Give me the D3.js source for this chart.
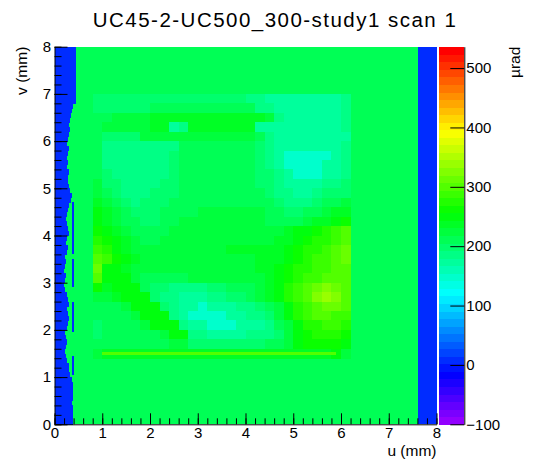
<!DOCTYPE html>
<html>
<head>
<meta charset="utf-8">
<script src="https://cdn.jsdelivr.net/npm/d3@7"></script>
<style>
  body { margin: 0; background: #fff; }
  text { font-family: "Liberation Sans", Arial, sans-serif; fill: #000; }
</style>
</head>
<body>
<div id="chart"></div>
<script>
// ---- data ----
const uTicks = [0, 1, 2, 3, 4, 5, 6, 7, 8];
const vTicks = [0, 1, 2, 3, 4, 5, 6, 7, 8];
const zTicks = [-100, 0, 100, 200, 300, 400, 500];
const zRange = [-100, 536];
const nLevels = 50;

// value (µrad) of each cell code
const codeKeys   = ["b", "c", "d", "e", "f", "g", "h", "i", "j", "k", "l", "m", "o", "p", "q", "r"];
const codeValues = [  8, 150, 168, 185, 200, 212, 225, 238, 250, 262, 275, 290, 305, 318, 330, 342];

// noisy outer field (mean value) and the blue (no signal) strips
const outerValue = 215;
const blueValue = 8;
// left blue edge, u (mm) per 0.1 mm of v, starting at v = 0
const leftEdge = [
  0.38, 0.38, 0.39, 0.38, 0.37, 0.38, 0.38, 0.39, 0.38, 0.37,
  0.33, 0.30, 0.30, 0.26, 0.24, 0.22, 0.24, 0.26, 0.24, 0.22,
  0.26, 0.28, 0.30, 0.28, 0.26, 0.30, 0.28, 0.26, 0.22, 0.20,
  0.22, 0.24, 0.20, 0.22, 0.24, 0.22, 0.26, 0.28, 0.24, 0.26,
  0.30, 0.28, 0.26, 0.24, 0.26, 0.28, 0.30, 0.34, 0.36, 0.32,
  0.30, 0.28, 0.28, 0.30, 0.26, 0.28, 0.27, 0.28, 0.30, 0.26,
  0.28, 0.30, 0.32, 0.30, 0.33, 0.35, 0.36, 0.38, 0.45, 0.45,
  0.45, 0.45, 0.45, 0.45, 0.45, 0.45, 0.45, 0.45, 0.45, 0.45
];
const rightEdge = 7.62;
// broken blue streak at u = 0.39 mm, [v start, v end]
const streakU = 0.39;
const streak = [[1.05, 1.45], [1.95, 2.6], [2.9, 3.5], [3.6, 4.7]];
// thin bright line along the bottom of the inner square: [u start, u end, v, value]
const bottomLine = [1.0, 5.9, 1.5, 300];

// smooth inner square, 0.2 mm cells, run-length coded rows from v = 7.0 down
const innerU0 = 0.8;
const innerVTop = 7.0;
const cell = 0.2;
const innerRows = [
  "f16 e2 d8 e1",
  "f6 g11 e2 d7 e1",
  "g2 h4 i12 h1 e1 d6 e1",
  "g1 h5 i2 d1 e1 i7 d9 e1",
  "g1 f4 h12 g1 e1 d8",
  "g1 e8 g8 f1 e1 d7 e1",
  "g1 e7 f1 g8 f1 e1 d1 c5 d1 e1",
  "g1 e7 f1 g8 f1 e1 d1 c4 d2 e1",
  "g1 f1 e6 f1 g8 f2 e1 d1 c3 d2 e1",
  "h1 f2 e4 f2 g8 f2 e1 d4 e2 f1",
  "h1 g1 f1 e3 f3 g9 f1 e2 d2 e1 f3",
  "i1 h1 g1 f1 e1 f3 g11 f1 e3 f1 g2 h1",
  "j1 i1 h1 g1 f3 g4 h7 g2 f2 g2 h1 i2",
  "j1 i1 h1 g2 f2 g2 h9 g4 h1 i2 j1 k1",
  "k1 j1 i1 h1 g4 h12 i1 j2 k1 l1 m1 o1",
  "l1 k1 j1 i1 h1 g2 h12 i2 j1 k1 l2 m1 o1",
  "m1 l1 j1 i1 h10 i6 j1 k1 l2 m1 o1 p1",
  "o1 m1 k1 j1 i1 h12 i3 j1 k1 l1 m2 o1 p1",
  "p1 j2 i1 h13 i2 j1 k1 l2 m2 o2",
  "o1 j3 h1 g5 h8 i1 j1 k1 l1 m2 o3",
  "k1 i1 j3 g1 f2 e4 f2 g3 h1 i1 j1 l1 m1 o1 p1 q1 p1 o1",
  "h2 i1 j3 f1 e2 d3 e2 f2 g1 h1 i1 j1 l1 m1 o1 q1 r1 q1 o1",
  "g3 h1 j3 f1 e1 d2 c1 d3 e2 f1 g1 h1 j1 l1 m1 o1 p2 o1",
  "g4 h1 j3 e1 d1 c4 d2 e2 f1 h1 j1 l1 m1 o2 m2",
  "f1 g4 h1 j3 e1 d2 c3 d3 e1 g1 h1 j1 l2 m2 l1",
  "f1 g6 h1 j2 e2 d4 e3 f1 h1 j1 k1 l3 k1",
  "g8 h2 f8 g2 h1 j1 k4 j1",
  "h1 i24 j1 h1"
];

// ---- layout ----
const W = 546, H = 472;
const plot = {left: 54.5, right: 436.5, top: 46.7, bottom: 424.3};
const bar = {left: 439, right: 464.3};
const labelSize = 15;
const titleSize = 15.5;

const svg = d3.select("#chart")
  .append("svg")
    .attr("width", W)
    .attr("height", H);

const x = d3.scaleLinear().domain([0, 8]).range([plot.left, plot.right]);
const y = d3.scaleLinear().domain([0, 8]).range([plot.bottom, plot.top]);
const zy = d3.scaleLinear().domain(zRange).range([plot.bottom, plot.top]);

// ROOT "pretty" palette: hue 280 -> 0 in 50 steps
const palette = d3.range(nLevels).map(function(i) {
  return d3.hsl(280 - (i + 1) * 280 / nLevels, 1, 0.5).formatHex();
});
const color = d3.scaleQuantize().domain(zRange).range(palette);
const codeValue = {};
codeKeys.forEach(function(k, i) { codeValue[k] = codeValues[i]; });

// decode inner cells
const cells = [];
innerRows.forEach(function(row, r) {
  let c = 0;
  row.split(" ").forEach(function(tok) {
    const n = +tok.slice(1);
    for (let j = 0; j < n; j++) {
      cells.push({u: innerU0 + c * cell, v: innerVTop - (r + 1) * cell, z: codeValue[tok[0]]});
      c++;
    }
  });
});

const map = svg.append("g").attr("shape-rendering", "crispEdges");

// outer noisy field
map.append("rect")
    .attr("x", x(0))
    .attr("y", y(8))
    .attr("width", x(8) - x(0))
    .attr("height", y(0) - y(8))
    .attr("fill", color(outerValue));

// inner square
map.selectAll("rect.cell")
  .data(cells)
  .enter()
  .append("rect")
    .attr("class", "cell")
    .attr("x", function(d) { return x(d.u); })
    .attr("y", function(d) { return y(d.v + cell); })
    .attr("width", function(d) { return x(d.u + cell) - x(d.u) + 0.5; })
    .attr("height", function(d) { return y(d.v) - y(d.v + cell) + 0.5; })
    .attr("fill", function(d) { return color(d.z); });

// bottom line of the inner square
map.append("rect")
    .attr("x", x(bottomLine[0]))
    .attr("y", y(bottomLine[2]) - 1.2)
    .attr("width", x(bottomLine[1]) - x(bottomLine[0]))
    .attr("height", 2.4)
    .attr("fill", color(bottomLine[3]));

// left blue strip
map.selectAll("rect.left")
  .data(leftEdge)
  .enter()
  .append("rect")
    .attr("class", "left")
    .attr("x", x(0))
    .attr("y", function(d, i) { return y((i + 1) * 0.1); })
    .attr("width", function(d) { return x(d) - x(0); })
    .attr("height", function(d, i) { return y(i * 0.1) - y((i + 1) * 0.1) + 0.5; })
    .attr("fill", color(blueValue));

// right blue strip
map.append("rect")
    .attr("x", x(rightEdge))
    .attr("y", y(8))
    .attr("width", x(8) - x(rightEdge))
    .attr("height", y(0) - y(8))
    .attr("fill", color(blueValue));

// blue streak
map.selectAll("rect.streak")
  .data(streak)
  .enter()
  .append("rect")
    .attr("class", "streak")
    .attr("x", x(streakU) - 0.7)
    .attr("y", function(d) { return y(d[1]); })
    .attr("width", 1.5)
    .attr("height", function(d) { return y(d[0]) - y(d[1]); })
    .attr("fill", color(blueValue));

// ---- axes ----
function styleAxis(g) {
  g.attr("font-size", labelSize).attr("font-family", null);
  g.selectAll("text").attr("fill", "#000");
}

const minor = d3.range(0, 8.001, 0.2);

svg.append("g")
    .attr("transform", "translate(0," + plot.bottom + ")")
  .call(d3.axisBottom(x).tickValues(minor).tickSize(-6).tickSizeOuter(0).tickFormat(""))
  .call(function(g) { g.select(".domain").remove(); });
svg.append("g")
    .attr("transform", "translate(0," + plot.bottom + ")")
  .call(d3.axisBottom(x).tickValues(uTicks).tickSize(-11).tickSizeOuter(0).tickPadding(3.2).tickFormat(d3.format("d")))
  .call(styleAxis);

svg.append("g")
    .attr("transform", "translate(" + plot.left + ",0)")
  .call(d3.axisLeft(y).tickValues(minor).tickSize(-7).tickSizeOuter(0).tickFormat(""))
  .call(function(g) { g.select(".domain").remove(); });
svg.append("g")
    .attr("transform", "translate(" + plot.left + ",0)")
  .call(d3.axisLeft(y).tickValues(vTicks).tickSize(-13).tickSizeOuter(0).tickPadding(3.5).tickFormat(d3.format("d")))
  .call(styleAxis);

// ---- colour bar ----
const dz = (zRange[1] - zRange[0]) / nLevels;
svg.append("g")
    .attr("shape-rendering", "crispEdges")
  .selectAll("rect")
  .data(palette)
  .enter()
  .append("rect")
    .attr("x", bar.left)
    .attr("y", function(d, i) { return zy(zRange[0] + (i + 1) * dz); })
    .attr("width", bar.right - bar.left)
    .attr("height", function(d, i) { return zy(zRange[0] + i * dz) - zy(zRange[0] + (i + 1) * dz) + 0.5; })
    .attr("fill", function(d) { return d; });

svg.append("g")
    .attr("transform", "translate(" + bar.right + ",0)")
  .call(d3.axisRight(zy).tickValues(zTicks).tickSize(-14).tickSizeOuter(0).tickPadding(2).tickFormat(d3.format("d")))
  .call(styleAxis);

// ---- titles ----
svg.append("text")
    .attr("x", 274.3)
    .attr("y", 27.3)
    .attr("text-anchor", "middle")
    .attr("font-size", 20.5)
    .attr("textLength", 363)
    .attr("lengthAdjust", "spacing")
    .text("UC45-2-UC500_300-study1 scan 1");

svg.append("text")
    .attr("x", plot.right)
    .attr("y", 455.5)
    .attr("text-anchor", "end")
    .attr("font-size", titleSize)
    .text("u (mm)");

svg.append("text")
    .attr("transform", "translate(27," + plot.top + ") rotate(-90)")
    .attr("text-anchor", "end")
    .attr("font-size", titleSize)
    .text("v (mm)");

svg.append("text")
    .attr("transform", "translate(520," + plot.top + ") rotate(-90)")
    .attr("text-anchor", "end")
    .attr("font-size", titleSize)
    .text("µrad");
</script>
</body>
</html>
